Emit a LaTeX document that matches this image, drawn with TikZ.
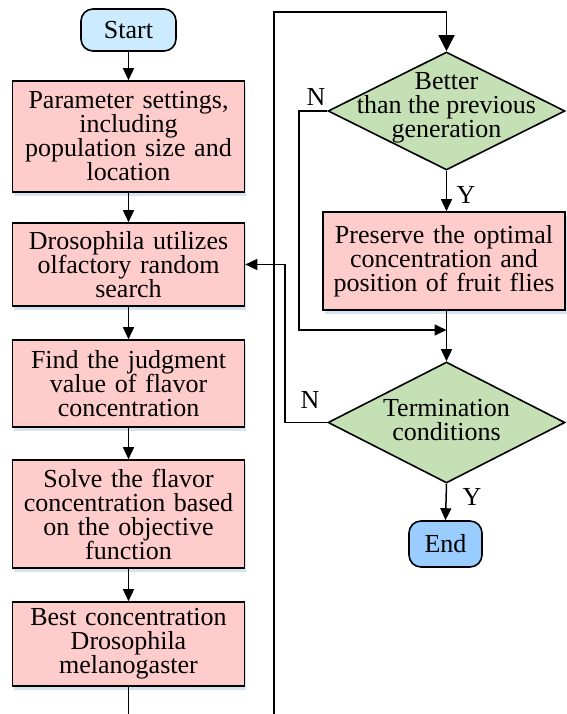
\documentclass[tikz,border=0pt]{standalone}
\usepackage{fontspec}
\setmainfont{Liberation Serif}
\usetikzlibrary{shapes.geometric,arrows.meta,shadows}

\definecolor{boxpink}{HTML}{FFCCCC}
\definecolor{startblue}{HTML}{CCEBFF}
\definecolor{endblue}{HTML}{99CCFF}
\definecolor{decgreen}{HTML}{C5E0B4}
\definecolor{shadowblue}{HTML}{D5E3F3}

\tikzset{
  base/.style={draw=black, line width=1.6pt, align=center, inner sep=0pt,
    font=\fontsize{26}{24}\selectfont},
  procbox/.style={base, fill=boxpink, text width=232pt,
    drop shadow={shadow xshift=1.5pt, shadow yshift=-4pt, fill=shadowblue, opacity=1}},
  terminal/.style={base, rounded corners=12pt},
  decision/.style={draw=black, line width=1.6pt, fill=decgreen, shape=diamond,
    inner sep=0pt},
  dtext/.style={align=center, inner sep=0pt, font=\fontsize{26}{24}\selectfont},
  flow/.style={line width=1.5pt, -{Triangle[length=12pt,width=11pt]}},
  bigflow/.style={line width=1.5pt, -{Triangle[length=16pt,width=16pt]}},
  wire/.style={line width=1.5pt},
  tag/.style={inner sep=0pt, font=\fontsize{26}{24}\selectfont},
}

\begin{document}
\begin{tikzpicture}[x=1pt, y=-1pt]
\useasboundingbox (0,0) rectangle (566,714);

% left column
\node[terminal, fill=startblue, minimum width=95pt, minimum height=42pt] (start) at (128.5,30) {Start};
\node[procbox, minimum height=111pt] (p1) at (128.5,136.5) {Parameter settings,\\including\\population size and\\location};
\node[procbox, minimum height=83pt] (p2) at (128.5,264.5) {Drosophila utilizes\\olfactory random\\search};
\node[procbox, minimum height=87pt] (p3) at (128.5,383.5) {Find the judgment\\value of flavor\\concentration};
\node[procbox, minimum height=108pt] (p4) at (128.5,514) {Solve the flavor\\concentration based\\on the objective\\function};
\node[procbox, minimum height=84pt] (p5) at (128.5,644) {Best concentration\\Drosophila\\melanogaster};

% right column
\node[decision, minimum width=237pt, minimum height=118pt] (d1) at (446.5,111) {};
\node[dtext] (d1t) at (446.5,108) {Better\\than the previous\\generation};
\node[procbox, text width=242pt, minimum height=98pt] (p6) at (444,261) {Preserve the optimal\\concentration and\\position of fruit flies};
\node[decision, minimum width=237pt, minimum height=121pt] (d2) at (446.5,422.5) {};
\node[dtext] (d2t) at (446.5,420) {Termination\\conditions};
\node[terminal, fill=endblue, minimum width=73pt, minimum height=46pt] (end) at (445.5,544) {End};

\coordinate (join) at (446.5,330);

% connectors
\draw[flow] (start) -- (p1);
\draw[flow] (p1) -- (p2);
\draw[flow] (p2) -- (p3);
\draw[flow] (p3) -- (p4);
\draw[flow] (p4) -- (p5);

\begin{scope}
\clip (0,0) rectangle (566,714);
\draw[bigflow] (p5.south) -- (128.5,740) -| (274,12) -| (d1.north);
\end{scope}

\draw[flow] (d1.south) -- (d1.south |- p6.north);
\draw[wire] (p6.south -| d2.north) -- (join);
\draw[flow] (join) -- (d2.north);
\draw[flow] (d1.west) -- ++(-28,0) |- (join);
\draw[flow] (d2.west) -- ++(-42,0) |- (p2.east);
\draw[flow] (d2.south) -- (end.north);

% branch labels
\node[tag] (n1) at (316,97) {N};
\node[tag] (y1) at (466,195) {Y};
\node[tag] (n2) at (310,400) {N};
\node[tag] (y2) at (472,497) {Y};
\end{tikzpicture}
\end{document}
